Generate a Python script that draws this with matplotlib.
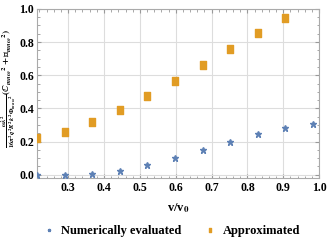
import matplotlib
matplotlib.use("Agg")
import matplotlib.pyplot as plt
from matplotlib.ticker import MultipleLocator
from matplotlib.path import Path

# data
v_num = [0.213, 0.290, 0.367, 0.444, 0.521, 0.598, 0.675, 0.752, 0.829, 0.906, 0.983]
y_num = [0.000, 0.000, 0.007, 0.025, 0.056, 0.100, 0.150, 0.199, 0.245, 0.280, 0.305]
v_app = [0.213, 0.290, 0.367, 0.444, 0.521, 0.598, 0.675, 0.752, 0.829, 0.906]
y_app = [0.220, 0.260, 0.318, 0.388, 0.472, 0.566, 0.662, 0.758, 0.854, 0.944]

BLUE = "#5E81B5"
ORANGE = "#E19C24"

# tall rectangle marker like the reference
rect = Path([(-0.35, -0.5), (0.35, -0.5), (0.35, 0.5), (-0.35, 0.5), (-0.35, -0.5)],
            [Path.MOVETO, Path.LINETO, Path.LINETO, Path.LINETO, Path.CLOSEPOLY])

plt.rcParams["font.family"] = ["Liberation Serif", "DejaVu Serif"]
plt.rcParams["font.weight"] = "bold"
plt.rcParams["mathtext.fontset"] = "stix"

fig = plt.figure(figsize=(3.27, 2.40), dpi=100)
ax = fig.add_axes([0.113, 0.258, 0.863, 0.705])

ax.plot(v_num, y_num, linestyle="none", marker="*", markersize=5, color=BLUE,
        label="Numerically evaluated", zorder=3)
ax.plot(v_app, y_app, linestyle="none", marker=rect, markersize=5.5, color=ORANGE,
        label="Approximated", zorder=3)

ax.set_xlim(0.213, 1.0)
ax.set_ylim(-0.02, 1.0)
ax.xaxis.set_minor_locator(MultipleLocator(0.02))
ax.yaxis.set_minor_locator(MultipleLocator(0.05))
ax.set_xticks([0.3, 0.4, 0.5, 0.6, 0.7, 0.8, 0.9, 1.0])
ax.set_xticklabels(["0.3", "0.4", "0.5", "0.6", "0.7", "0.8", "0.9", "1.0"])
ax.set_yticks([0.0, 0.2, 0.4, 0.6, 0.8, 1.0])
ax.set_yticklabels(["0.0", "0.2", "0.4", "0.6", "0.8", "1.0"])

ax.grid(True, which="major", color="#dddddd", linewidth=0.8)
ax.tick_params(which="both", direction="in", top=True, right=True, color="#999999",
               labelsize=8.5, pad=3)
ax.tick_params(axis="y", pad=2)
ax.tick_params(which="major", length=3)
ax.tick_params(which="minor", length=1.8)
for s in ax.spines.values():
    s.set_color("#aaaaaa")
    s.set_linewidth(0.8)
for lab in ax.get_xticklabels() + ax.get_yticklabels():
    lab.set_fontweight("bold")

ax.set_xlabel(r"v/v$_\mathbf{0}$", fontsize=9, fontweight="bold", labelpad=5)
ax.set_ylabel(r"$\frac{\omega\lambda^2}{16\pi^2 q^2 R^2 k^2 \Phi_{mn\omega}{}^2}"
              r"(\mathbb{C}_{mn\omega}{}^2+\mathbb{S}_{mn\omega}{}^2)$",
              fontsize=6.8)
ax.yaxis.set_label_coords(-0.068, 0.53)

fig.legend(loc="lower center", bbox_to_anchor=(0.52, -0.035), ncol=2, frameon=False,
           prop={"size": 9, "weight": "bold"}, handletextpad=0.3, columnspacing=1.6,
           markerscale=0.45, handlelength=1.4)

fig.savefig("out.png", dpi=100)
